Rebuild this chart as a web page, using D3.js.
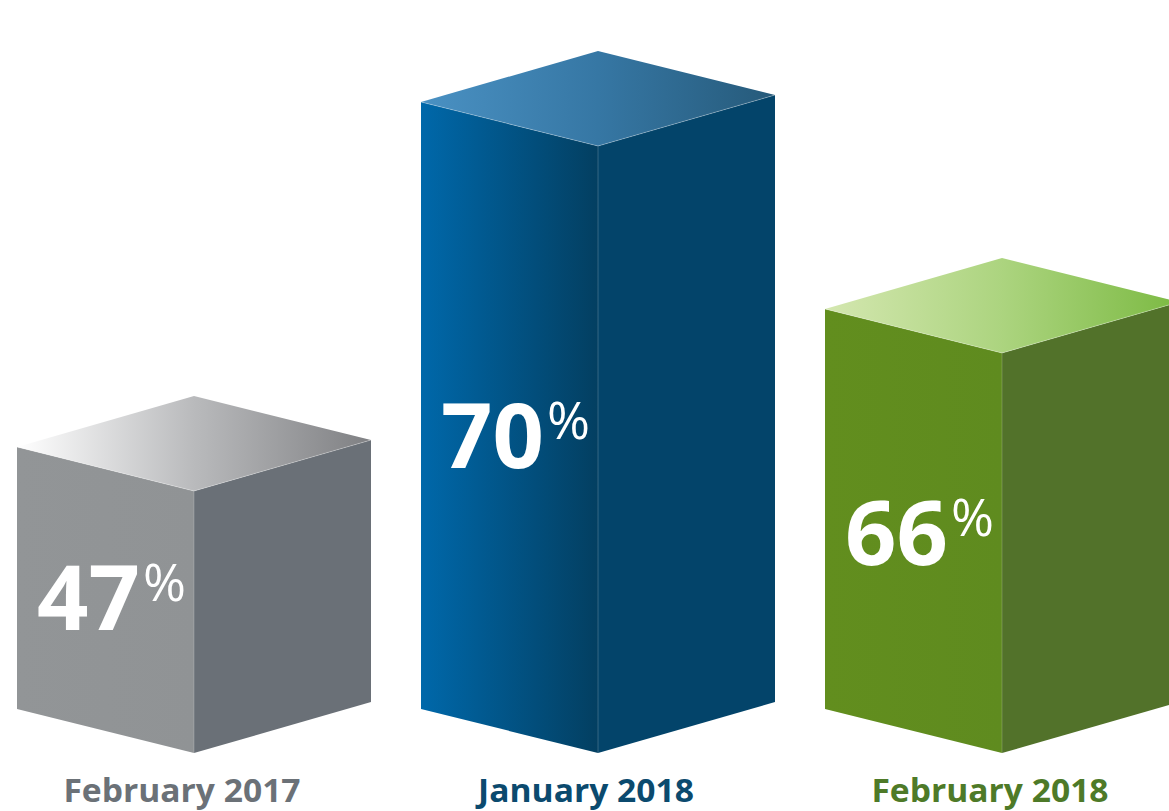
<!DOCTYPE html>
<html>
<head>
<meta charset="utf-8">
<script src="https://cdn.jsdelivr.net/npm/d3@7/dist/d3.min.js"></script>
<style>
  html, body { margin: 0; padding: 0; background: #ffffff; }
  svg { display: block; }
</style>
</head>
<body>
<svg id="chart" width="1169" height="811"></svg>
<script>
// ---- data ----
const categories = ["February 2017", "January 2018", "February 2018"];
const values = [47, 70, 66];
const valueSuffix = "%";

// ---- styles ----
const frontColors = [["#929597", "#909395"], ["#0068aa", "#033f61"], ["#628e1e", "#5f8b1f"]];
const sideColors = ["#6a7077", "#03446a", "#52722a"];
const topColors = [["#ffffff", "#b9babc", "#7f8083"], ["#4a91c3", "#3677a4", "#265a7a"], ["#d4e7b0", "#acd47f", "#7cba43"]];
const labelColors = ["#6b7177", "#0b4a6e", "#4e7a28"];

const svg = d3.select("#chart");
const defs = svg.append("defs");

// layout
const base = 753;          // y of bottom front corner
const leftW = 177, rightW = 177, dropL = 44, riseR = 51;

const x = d3.scalePoint().domain(categories).range([194, 1002]);
const h = d3.scaleLinear().domain([0, 47, 66, 70]).range([0, 262, 400, 607]);

const data = categories.map((c, i) => ({ cat: c, value: values[i], i }));

// gradients
data.forEach(d => {
  const gf = defs.append("linearGradient").attr("id", "front" + d.i)
    .attr("x1", 0).attr("y1", 0).attr("x2", 1).attr("y2", 0);
  gf.append("stop").attr("offset", "0%").attr("stop-color", frontColors[d.i][0]);
  gf.append("stop").attr("offset", "100%").attr("stop-color", frontColors[d.i][1]);
  const gt = defs.append("linearGradient").attr("id", "top" + d.i)
    .attr("x1", 0).attr("y1", 0).attr("x2", 1).attr("y2", 0);
  gt.append("stop").attr("offset", "0%").attr("stop-color", topColors[d.i][0]);
  gt.append("stop").attr("offset", "50%").attr("stop-color", topColors[d.i][1]);
  gt.append("stop").attr("offset", "100%").attr("stop-color", topColors[d.i][2]);
});

const line = d3.line();

const boxes = svg.selectAll("g.box").data(data).join("g").attr("class", "box");

function geom(d) {
  const cx = x(d.cat);
  const hh = h(d.value);
  const fb = [cx, base], ft = [cx, base - hh];
  const lb = [cx - leftW, base - dropL], lt = [cx - leftW, base - hh - dropL];
  const rb = [cx + rightW, base - riseR], rt = [cx + rightW, base - hh - riseR];
  const bt = [cx, base - hh - dropL - riseR];
  return { cx, hh, fb, ft, lb, lt, rb, rt, bt };
}

boxes.each(function(d) {
  const g = d3.select(this);
  const p = geom(d);
  // left/front face
  g.append("path").attr("d", line([p.lt, p.ft, p.fb, p.lb]) + "Z")
    .attr("fill", `url(#front${d.i})`);
  // right face
  g.append("path").attr("d", line([p.ft, p.rt, p.rb, p.fb]) + "Z")
    .attr("fill", sideColors[d.i]);
  // top face
  g.append("path").attr("d", line([p.lt, p.bt, p.rt, p.ft]) + "Z")
    .attr("fill", `url(#top${d.i})`);
  // subtle light edges
  g.append("path").attr("d", line([p.lt, p.ft, p.rt]))
    .attr("fill", "none").attr("stroke", "rgba(255,255,255,0.35)").attr("stroke-width", 0.8);
  g.append("path").attr("d", line([p.ft, p.fb]))
    .attr("fill", "none").attr("stroke", "rgba(255,255,255,0.25)").attr("stroke-width", 0.8);

  // value label
  const t = g.append("text")
    .attr("x", p.cx - leftW + 20)
    .attr("y", base - 0.47 * p.hh)
    .attr("fill", "#ffffff")
    .attr("font-family", "'Open Sans', sans-serif");
  t.append("tspan").attr("font-size", 90).attr("font-weight", 700).text(d.value);
  t.append("tspan").attr("font-size", 52).attr("font-weight", 400)
    .attr("dx", 3).attr("dy", -29).text(valueSuffix);

  // category label
  const lab = g.append("text")
    .attr("x", p.cx - 12)
    .attr("y", 802)
    .attr("text-anchor", "middle")
    .attr("fill", labelColors[d.i])
    .attr("font-family", "'Open Sans', sans-serif")
    .attr("font-weight", 700)
    .attr("font-size", 32)
    .text(d.cat);
  const len = lab.node().getComputedTextLength();
  lab.attr("textLength", len * 1.05).attr("lengthAdjust", "spacingAndGlyphs");
});
</script>
</body>
</html>
